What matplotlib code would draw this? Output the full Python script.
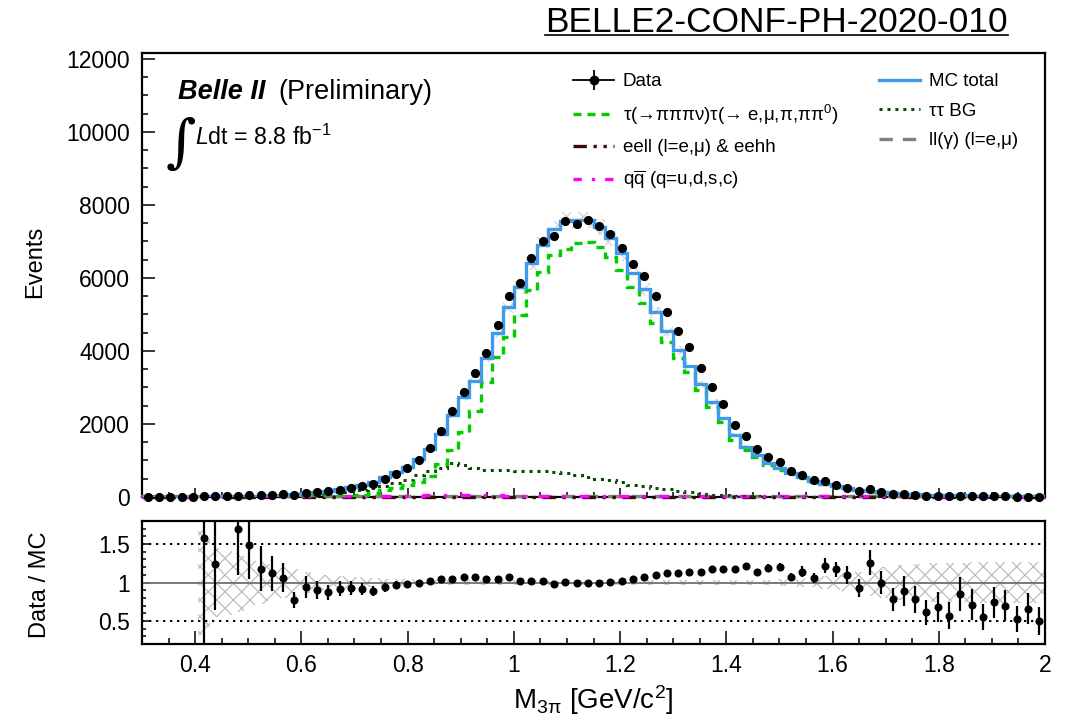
import numpy as np
import matplotlib
matplotlib.use("Agg")
import matplotlib.pyplot as plt
from matplotlib.lines import Line2D
from matplotlib.legend_handler import HandlerTuple
from matplotlib.ticker import FixedLocator, MultipleLocator
from matplotlib.transforms import IdentityTransform

plt.rcParams['font.family'] = ['Liberation Sans', 'DejaVu Sans']
plt.rcParams['mathtext.fontset'] = 'custom'
plt.rcParams['mathtext.rm'] = 'Liberation Sans'
plt.rcParams['mathtext.it'] = 'Liberation Sans:italic'
plt.rcParams['mathtext.bf'] = 'Liberation Sans:bold'
plt.rcParams['hatch.color'] = '#bdbdbd'
plt.rcParams['hatch.linewidth'] = 0.9

# ---- binning: 80 bins in M(3pi) from 0.3 to 2.0 GeV/c^2 ----
x_min, x_max, n_bins = 0.3, 2.0, 80

# ---- events per bin ----
data = [0, 0, 0, 0, 0, 16, 17, 40, 41, 45,
        47, 58, 72, 68, 105, 126, 152, 202, 251, 304,
        356, 505, 642, 795, 1006, 1335, 1801, 2360, 2880, 3383,
        3950, 4708, 5504, 5869, 6537, 7012, 7157, 7560, 7478, 7588,
        7432, 7204, 6811, 6381, 6061, 5512, 5065, 4544, 4105, 3537,
        3000, 2534, 1985, 1665, 1317, 1097, 952, 713, 614, 458,
        450, 340, 258, 175, 211, 148, 93, 74, 55, 38,
        37, 27, 36, 26, 18, 21, 18, 12, 13, 9]

mc_total = [0, 0, 0, 0, 0, 10, 14, 18, 24, 30,
            40, 52, 68, 88, 112, 140, 175, 220, 270, 330,
            400, 540, 680, 830, 1040, 1320, 1715, 2240, 2740, 3180,
            3812, 4497, 5194, 5742, 6417, 6902, 7333, 7569, 7588, 7588,
            7404, 7086, 6674, 6143, 5687, 5056, 4544, 4023, 3592, 3082,
            2605, 2150, 1692, 1371, 1155, 922, 793, 666, 539, 432,
            369, 291, 235, 188, 167, 148, 119, 83, 70, 62,
            55, 48, 42, 37, 33, 29, 26, 23, 20, 18]

signal = [0, 0, 0, 0, 0, 1, 1, 2, 2, 3,
          4, 5, 7, 9, 12, 16, 20, 26, 34, 60,
          110, 190, 260, 330, 420, 580, 915, 1281, 1783, 2358,
          3154, 3840, 4388, 4983, 5668, 6170, 6630, 6800, 6950, 6990,
          6860, 6583, 6217, 5742, 5303, 4755, 4250, 3795, 3428, 2926,
          2468, 2057, 1574, 1290, 1100, 870, 750, 630, 510, 405,
          345, 270, 215, 170, 150, 132, 105, 72, 60, 53,
          47, 41, 36, 31, 28, 25, 22, 19, 17, 15]

tautau_bg = [0, 0, 0, 0, 0, 1, 2, 3, 5, 8,
             13, 20, 30, 42, 58, 78, 100, 130, 165, 200,
             240, 300, 380, 470, 600, 720, 800, 920, 870, 790,
             750, 740, 730, 720, 715, 705, 690, 650, 590, 545,
             500, 460, 400, 340, 300, 250, 210, 165, 125, 90,
             62, 45, 32, 22, 15, 11, 8, 6, 5, 4,
             3, 3, 2, 2, 2, 2, 1, 1, 1, 1,
             1, 1, 0, 0, 0, 0, 0, 0, 0, 0]

eell = [0, 0, 0, 0, 0, 4, 5, 6, 7, 8,
        9, 10, 10, 11, 11, 12, 12, 12, 13, 13,
        13, 13, 13, 13, 13, 13, 13, 13, 12, 12,
        12, 12, 12, 11, 11, 11, 11, 10, 10, 10,
        10, 9, 9, 9, 9, 8, 8, 8, 7, 7,
        7, 6, 6, 6, 6, 5, 5, 5, 5, 4,
        4, 4, 4, 4, 3, 3, 3, 3, 3, 3,
        2, 2, 2, 2, 2, 2, 2, 2, 2, 2]

ll_gamma = [30, 30, 31, 31, 32, 32, 33, 33, 34, 34,
            35, 35, 36, 36, 36, 37, 37, 37, 38, 38,
            38, 38, 38, 38, 38, 38, 38, 38, 38, 38,
            37, 37, 37, 37, 36, 36, 36, 35, 35, 35,
            34, 34, 34, 33, 33, 33, 32, 32, 32, 31,
            31, 31, 30, 30, 30, 29, 29, 29, 28, 28,
            28, 27, 27, 27, 26, 26, 26, 25, 25, 25,
            24, 24, 24, 23, 23, 23, 22, 22, 22, 22]

qqbar = [0, 0, 0, 0, 0, 18, 20, 22, 24, 26,
         28, 30, 31, 32, 33, 34, 35, 36, 37, 38,
         39, 40, 40, 41, 41, 42, 42, 42, 42, 42,
         42, 42, 41, 41, 41, 40, 40, 39, 39, 38,
         37, 36, 35, 34, 33, 32, 31, 30, 29, 28,
         27, 26, 25, 24, 23, 22, 21, 20, 20, 19,
         18, 18, 17, 17, 16, 16, 15, 15, 14, 14,
         14, 13, 13, 13, 12, 12, 12, 12, 11, 11]

# relative MC uncertainty per bin (hatched band)
mc_rel_err = [0, 0, 0, 0, 0, 0.68, 0.45, 0.42, 0.38, 0.33,
              0.28, 0.24, 0.20, 0.17, 0.14, 0.12, 0.10, 0.09, 0.08, 0.07,
              0.06, 0.05, 0.045, 0.04, 0.035, 0.035, 0.035, 0.035, 0.035, 0.035,
              0.03, 0.03, 0.03, 0.03, 0.03, 0.03, 0.03, 0.03, 0.03, 0.03,
              0.03, 0.03, 0.03, 0.03, 0.03, 0.03, 0.03, 0.03, 0.03, 0.03,
              0.03, 0.03, 0.035, 0.035, 0.035, 0.035, 0.04, 0.05, 0.055, 0.06,
              0.08, 0.10, 0.12, 0.14, 0.17, 0.20, 0.22, 0.23, 0.24, 0.25,
              0.25, 0.26, 0.26, 0.27, 0.27, 0.27, 0.27, 0.27, 0.27, 0.27]

# Data / MC ratio and its uncertainty (None: not shown)
ratio = [None, None, None, None, None, 1.58, 1.24, None, 1.69, 1.49,
         1.18, 1.12, 1.06, 0.77, 0.94, 0.90, 0.87, 0.92, 0.93, 0.92,
         0.89, 0.94, 0.97, 0.98, 0.99, 1.02, 1.05, 1.05, 1.07, 1.07,
         1.05, 1.05, 1.07, 1.02, 1.02, 1.02, 0.98, 1.01, 0.99, 1.00,
         1.00, 1.01, 1.02, 1.04, 1.07, 1.10, 1.12, 1.13, 1.14, 1.14,
         1.17, 1.18, 1.17, 1.22, 1.14, 1.19, 1.20, 1.07, 1.14, 1.06,
         1.22, 1.17, 1.10, 0.93, 1.26, 1.00, 0.78, 0.89, 0.78, 0.61,
         0.68, 0.57, 0.85, 0.71, 0.55, 0.74, 0.70, 0.52, 0.66, 0.50]

ratio_err = [None, None, None, None, None, 1.60, 0.60, None, 0.59, 0.45,
             0.29, 0.23, 0.19, 0.10, 0.14, 0.12, 0.10, 0.10, 0.09, 0.08,
             0.07, 0.06, 0.05, 0.045, 0.04, 0.035, 0.03, 0.03, 0.03, 0.03,
             0.03, 0.03, 0.03, 0.03, 0.02, 0.02, 0.02, 0.02, 0.02, 0.02,
             0.02, 0.02, 0.02, 0.02, 0.02, 0.025, 0.025, 0.025, 0.025, 0.025,
             0.025, 0.03, 0.03, 0.035, 0.04, 0.045, 0.05, 0.055, 0.07, 0.07,
             0.10, 0.10, 0.12, 0.12, 0.16, 0.15, 0.15, 0.19, 0.18, 0.16,
             0.19, 0.17, 0.22, 0.20, 0.17, 0.20, 0.20, 0.17, 0.20, 0.18]

x_ticks = [0.4, 0.6, 0.8, 1.0, 1.2, 1.4, 1.6, 1.8, 2.0]
x_tick_labels = ['0.4', '0.6', '0.8', '1', '1.2', '1.4', '1.6', '1.8', '2']
y_ticks = [0, 2000, 4000, 6000, 8000, 10000, 12000]
y_tick_labels = ['0', '2000', '4000', '6000', '8000', '10000', '12000']
r_ticks = [0.5, 1.0, 1.5]
r_tick_labels = ['0.5', '1', '1.5']

# ---- colours ----
c_mc = '#3f9bea'
c_sig = '#00cc00'
c_tt = '#0a4a0a'
c_eell = '#3a0a0a'
c_ll = '#808080'
c_qq = '#ff00ff'

edges = np.linspace(x_min, x_max, n_bins + 1)
centers = 0.5 * (edges[:-1] + edges[1:])
to_arr = lambda v: np.array(v, dtype=float)

W, H = 1068, 724
fig = plt.figure(figsize=(W / 100, H / 100), dpi=100)
px = lambda x0, y0, x1, y1: [x0 / W, 1 - y1 / H, (x1 - x0) / W, (y1 - y0) / H]
ax = fig.add_axes(px(142, 53, 1045, 497))
rax = fig.add_axes(px(142, 521, 1045, 644))

mc = to_arr(mc_total)
err = to_arr(mc_rel_err)

# ---- upper panel ----
ax.stairs(mc * (1 + err), edges, baseline=mc * (1 - err), fill=True,
          facecolor='none', edgecolor='#d2d2d2', hatch='xx', lw=0, zorder=1)
ax.stairs(to_arr(ll_gamma), edges, color=c_ll, lw=2.4, ls=(0, (4, 3)), zorder=3,
          clip_on=False)
ax.stairs(to_arr(eell), edges, color=c_eell, lw=2.4, ls=(0, (4, 2, 1, 2, 1, 2)), zorder=3,
          clip_on=False)
ax.stairs(to_arr(qqbar), edges, color=c_qq, lw=2.4, ls=(0, (3, 4, 1, 4)), zorder=3,
          clip_on=False)
ax.stairs(to_arr(tautau_bg), edges, color=c_tt, lw=2.2, ls=(0, (1, 1.6)), zorder=3)
ax.stairs(to_arr(signal), edges, color=c_sig, lw=2.4, ls=(0, (2.4, 1.8)), zorder=3)
ax.stairs(mc, edges, color=c_mc, lw=2.4, zorder=4)
ax.plot(centers, to_arr(data), 'o', color='k', ms=5.6, zorder=6, clip_on=False)

ax.set_xlim(x_min, x_max)
ax.set_ylim(0, 12160)
ax.xaxis.set_major_locator(FixedLocator(x_ticks))
ax.xaxis.set_minor_locator(MultipleLocator(0.05))
ax.set_xticklabels([])
ax.yaxis.set_major_locator(FixedLocator(y_ticks))
ax.set_yticklabels(y_tick_labels)
ax.yaxis.set_minor_locator(MultipleLocator(500))
ax.tick_params(axis='both', which='both', direction='in', top=False, right=False,
               labelsize=16.5, width=1.1)
ax.tick_params(axis='y', which='major', length=9.4, pad=8.5)
ax.tick_params(axis='y', which='minor', length=4.5)
ax.tick_params(axis='x', which='major', length=6.5)
ax.tick_params(axis='x', which='minor', length=3.5)

# ---- ratio panel ----
band = err.copy()
rax.stairs(1 + band, edges, baseline=1 - band, fill=True, facecolor='none',
           edgecolor='#bdbdbd', hatch='xx', lw=0, zorder=1)
rax.axhline(1.0, color='#707070', lw=1.3, zorder=2)
rax.axhline(0.5, color='k', lw=1.4, ls=(0, (1.2, 2.4)), zorder=2)
rax.axhline(1.5, color='k', lw=1.4, ls=(0, (1.2, 2.4)), zorder=2)
rax.errorbar(centers, to_arr(ratio), yerr=to_arr(ratio_err), fmt='o', color='k',
             ms=4.8, elinewidth=1.6, capsize=0, zorder=5)
rax.set_xlim(x_min, x_max)
rax.set_ylim(0.2, 1.8)
rax.xaxis.set_major_locator(FixedLocator(x_ticks))
rax.set_xticklabels(x_tick_labels)
rax.xaxis.set_minor_locator(MultipleLocator(0.05))
rax.yaxis.set_major_locator(FixedLocator(r_ticks))
rax.set_yticklabels(r_tick_labels)
rax.yaxis.set_minor_locator(MultipleLocator(0.1))
rax.tick_params(axis='both', which='both', direction='in', top=False, right=False,
                labelsize=16.5, width=1.1)
rax.tick_params(axis='x', which='major', length=9.4, pad=7)
rax.tick_params(axis='x', which='minor', length=4.5)
rax.tick_params(axis='y', which='major', length=6, pad=8.5)
rax.tick_params(axis='y', which='minor', length=3)

for a in (ax, rax):
    for s in a.spines.values():
        s.set_linewidth(1.6)

# ---- axis titles ----
fig.text(35 / W, 1 - 262 / H, 'Events', rotation=90, ha='center', va='center', fontsize=17)
fig.text(40 / W, 1 - 585 / H, 'Data / MC', rotation=90, ha='center', va='center', fontsize=17)
fig.text(593 / W, 1 - 700 / H, r'M$_{3\mathrm{\pi}}$ [GeV/c$^{2}$]', ha='center', va='center',
         fontsize=20)

# ---- labels inside the plot ----
fig.text(178 / W, 1 - 99 / H, 'Belle II', fontsize=19.5, fontweight='bold',
         fontstyle='italic', va='baseline')
fig.text(278 / W, 1 - 99 / H, '(Preliminary)', fontsize=19.5, va='baseline')
fig.text(166 / W, 1 - 145 / H, '\u222b', fontsize=42, va='center', ha='left',
         family='DejaVu Serif', fontstyle='italic')
fig.text(195 / W, 1 - 145 / H, r'$\mathit{L}$dt = 8.8 fb$^{\mathrm{-1}}$', fontsize=16.7,
         va='baseline')

# ---- document tag ----
tag = fig.text(1008 / W, 1 - 31.5 / H, 'BELLE2-CONF-PH-2020-010', fontsize=25.4,
               ha='right', va='baseline')
fig.canvas.draw()
bb = tag.get_window_extent()
uy = H - 35
fig.add_artist(Line2D([bb.x0, bb.x1], [uy, uy], color='k', lw=1.2,
                      transform=IdentityTransform()))

# ---- legend ----
h_data = (Line2D([], [], color='k', lw=1.3),
          Line2D([], [], color='k', ls='none', marker='|', ms=15, mew=1.3),
          Line2D([], [], color='k', ls='none', marker='o', ms=6))
h_sig = Line2D([], [], color=c_sig, lw=2.4, ls=(0, (2.4, 1.8)))
h_eell = Line2D([], [], color=c_eell, lw=2.4, ls=(0, (4, 2, 1, 2, 1, 2)))
h_qq = Line2D([], [], color=c_qq, lw=2.4, ls=(0, (2.5, 3, 1, 3)))
h_mc = Line2D([], [], color=c_mc, lw=2.4)
h_tt = Line2D([], [], color=c_tt, lw=2.2, ls=(0, (1, 1.6)))
h_ll = Line2D([], [], color=c_ll, lw=2.4, ls=(0, (4, 3)))
handles = [h_data, h_sig, h_eell, h_qq, h_mc, h_tt, h_ll]
labels = ['Data',
          'τ(→πππν)τ(→ e,μ,π,ππ$^{0}$)',
          'eell (l=e,μ) & eehh',
          r'q$\overline{\mathrm{q}}$ (q=u,d,s,c)',
          'MC total',
          'ττ BG',
          'll(γ) (l=e,μ)']
fig.legend(handles, labels, loc='upper left', bbox_to_anchor=(573 / W, 1 - 73 / H),
           ncol=2, frameon=False, fontsize=13.5, handlelength=2.2, handletextpad=0.45,
           columnspacing=2.2, labelspacing=0.66, borderpad=0, borderaxespad=0,
           handler_map={tuple: HandlerTuple(ndivide=1)})

fig.savefig('out.png', dpi=100)
